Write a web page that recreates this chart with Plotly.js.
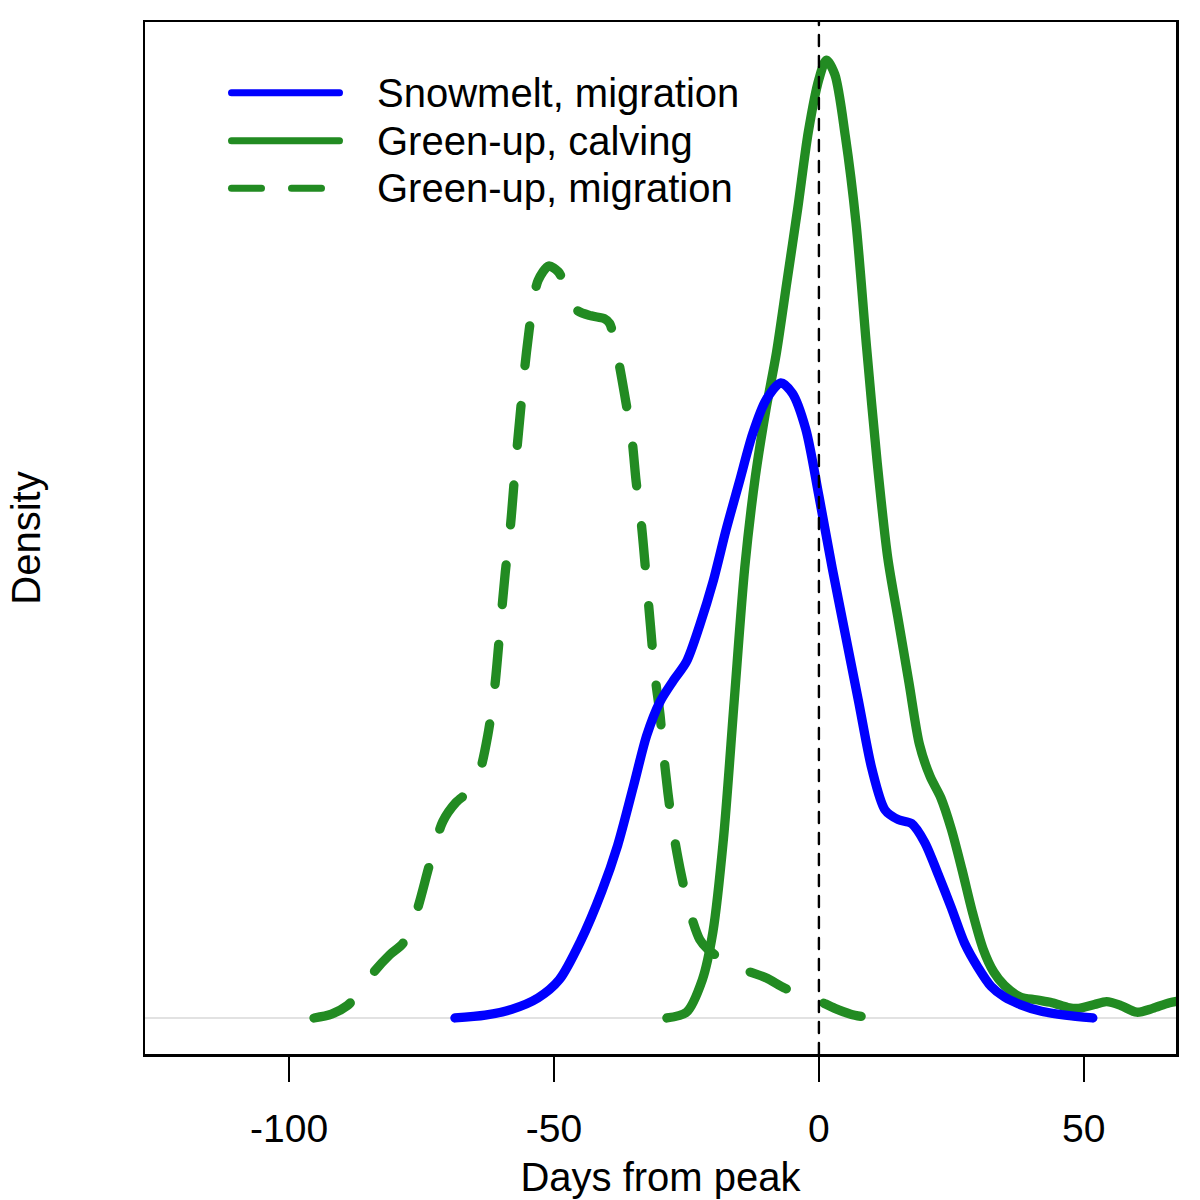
<!DOCTYPE html>
<html>
<head>
<meta charset="utf-8">
<script src="https://cdn.plot.ly/plotly-3.0.1.min.js"></script>
<style>
  body { margin: 0; background: #fff; }
  /* R draws lines with round ends */
  .js-line, .shapelayer path { stroke-linecap: round; stroke-linejoin: round; }
</style>
</head>
<body>
<div id="chart" style="width:1200px;height:1200px;"></div>
<script>
// density curves (density scaled so the tallest peak = 1)
var snowX = [-68.7, -63, -58, -53, -49, -45, -41, -38, -35, -32.5, -30, -27.5, -25, -22.5, -20, -17.5, -15, -12.5, -10, -7.2, -5, -2.5, 0, 2.5, 5, 7.5, 10, 12.5, 15, 17.5, 20, 22.5, 25, 27.5, 30, 32.5, 35, 38, 42, 46.5, 51.7];
var snowY = [0, 0.003, 0.009, 0.021, 0.040, 0.080, 0.132, 0.180, 0.242, 0.295, 0.330, 0.352, 0.372, 0.410, 0.455, 0.510, 0.560, 0.610, 0.645, 0.663, 0.652, 0.615, 0.545, 0.470, 0.400, 0.330, 0.260, 0.217, 0.207, 0.203, 0.183, 0.150, 0.115, 0.078, 0.053, 0.033, 0.022, 0.014, 0.007, 0.003, 0];

var calvX = [-28.7, -25, -22, -20, -18, -16, -14, -12, -10, -8, -6, -4, -2, 0, 1.4, 3, 5, 7, 9, 11, 13, 15, 17, 19, 21, 23, 25, 27, 29, 31, 33, 35, 38, 41, 44, 47, 49, 52, 54.3, 57, 60, 63, 66.2, 70];
var calvY = [0, 0.006, 0.040, 0.090, 0.188, 0.330, 0.470, 0.565, 0.635, 0.695, 0.770, 0.845, 0.925, 0.980, 1.000, 0.985, 0.920, 0.830, 0.700, 0.580, 0.480, 0.415, 0.350, 0.285, 0.252, 0.230, 0.197, 0.155, 0.110, 0.072, 0.048, 0.034, 0.022, 0.019, 0.016, 0.011, 0.010, 0.014, 0.017, 0.013, 0.006, 0.010, 0.016, 0.019];

var migX = [-95.3, -92, -89, -86.5, -84, -81, -78.5, -76, -73.5, -71, -68.5, -66, -64, -62.5, -61.2, -60.2, -59.2, -58.2, -57.3, -56.3, -55.2, -54, -53, -51, -49.2, -47.5, -45.7, -43, -40.5, -39.5, -37.8, -36.5, -35.3, -34.5, -33.5, -32.6, -31.8, -31, -30, -29.3, -28.5, -27.5, -26, -24.3, -22.5, -21, -18, -14.5, -10, -6.4, -3, 0, 3, 6, 9.6];
var migY = [0, 0.004, 0.013, 0.028, 0.048, 0.066, 0.078, 0.110, 0.160, 0.205, 0.225, 0.237, 0.258, 0.295, 0.345, 0.405, 0.465, 0.515, 0.575, 0.635, 0.695, 0.745, 0.770, 0.785, 0.779, 0.760, 0.739, 0.733, 0.730, 0.725, 0.685, 0.645, 0.605, 0.560, 0.515, 0.460, 0.410, 0.360, 0.317, 0.275, 0.235, 0.195, 0.150, 0.110, 0.082, 0.072, 0.060, 0.051, 0.042, 0.031, 0.025, 0.018, 0.010, 0.004, 0];

var seriesNames = ["Snowmelt, migration", "Green-up, calving", "Green-up, migration"];
var seriesColors = ["#0000FF", "#228B22", "#228B22"];
var tickVals = [-100, -50, 0, 50];
var tickLabels = ["-100", "-50", "0", "50"];
var peakDay = 0;

var font = "Liberation Sans, Arial, Helvetica, sans-serif";

// plot box in pixels, used for the hand-made legend
var plotL = 145, plotR = 1176, plotT = 22, plotB = 1054;
function px(x) { return (x - plotL) / (plotR - plotL); }
function py(y) { return (plotB - y) / (plotB - plotT); }

var curve = {shape: "spline", smoothing: 0.8, width: 9.3};

var traces = [
  {x: migX, y: migY, mode: "lines", name: seriesNames[2],
   line: Object.assign({}, curve, {color: seriesColors[2], dash: "40px,40px"})},
  {x: calvX, y: calvY, mode: "lines", name: seriesNames[1],
   line: Object.assign({}, curve, {color: seriesColors[1]})},
  {x: snowX, y: snowY, mode: "lines", name: seriesNames[0],
   line: Object.assign({}, curve, {color: seriesColors[0]})}
];

var legRows = [92.7, 140.7, 188.3];
var legDash = ["solid", "solid", "30px,30px"];
var shapes = [
  {type: "line", xref: "x", yref: "paper", x0: peakDay, x1: peakDay, y0: 0, y1: 1,
   line: {color: "black", width: 2.4, dash: "11px,10px"}}
];
var annotations = [];
seriesNames.forEach(function(name, i) {
  shapes.push({type: "line", xref: "paper", yref: "paper",
    x0: px(231.5), x1: px(339.5), y0: py(legRows[i]), y1: py(legRows[i]),
    line: {color: seriesColors[i], width: 7, dash: legDash[i]}});
  annotations.push({xref: "paper", yref: "paper", x: px(375), y: py(legRows[i]),
    xanchor: "left", yanchor: "middle", showarrow: false, text: name,
    font: {family: font, size: 40, color: "black"}});
});

var layout = {
  width: 1200, height: 1200,
  margin: {l: plotL, r: 1200 - plotR, t: plotT, b: 1200 - plotB, pad: 0},
  paper_bgcolor: "white", plot_bgcolor: "white",
  showlegend: false,
  font: {family: font, size: 39, color: "black"},
  xaxis: {
    range: [-127.2, 67.4], tickvals: tickVals, ticktext: tickLabels,
    ticks: "outside", ticklen: 25, tickwidth: 2.4, tickcolor: "black",
    ticklabelstandoff: 14,
    showline: true, mirror: true, linewidth: 2.5, linecolor: "black",
    showgrid: false, zeroline: false,
    tickfont: {family: font, size: 39, color: "black"},
    title: {text: "Days from peak", standoff: 14, font: {family: font, size: 40, color: "black"}}
  },
  yaxis: {
    range: [-0.0376, 1.0397],
    showticklabels: false, ticks: "",
    showline: true, mirror: true, linewidth: 2.5, linecolor: "black",
    showgrid: false, zeroline: true, zerolinecolor: "#e2e2e2", zerolinewidth: 1.2,
    title: {text: "Density", standoff: 90, font: {family: font, size: 40, color: "black"}}
  },
  shapes: shapes,
  annotations: annotations
};

Plotly.newPlot("chart", traces, layout, {displayModeBar: false, staticPlot: true});
</script>
</body>
</html>
